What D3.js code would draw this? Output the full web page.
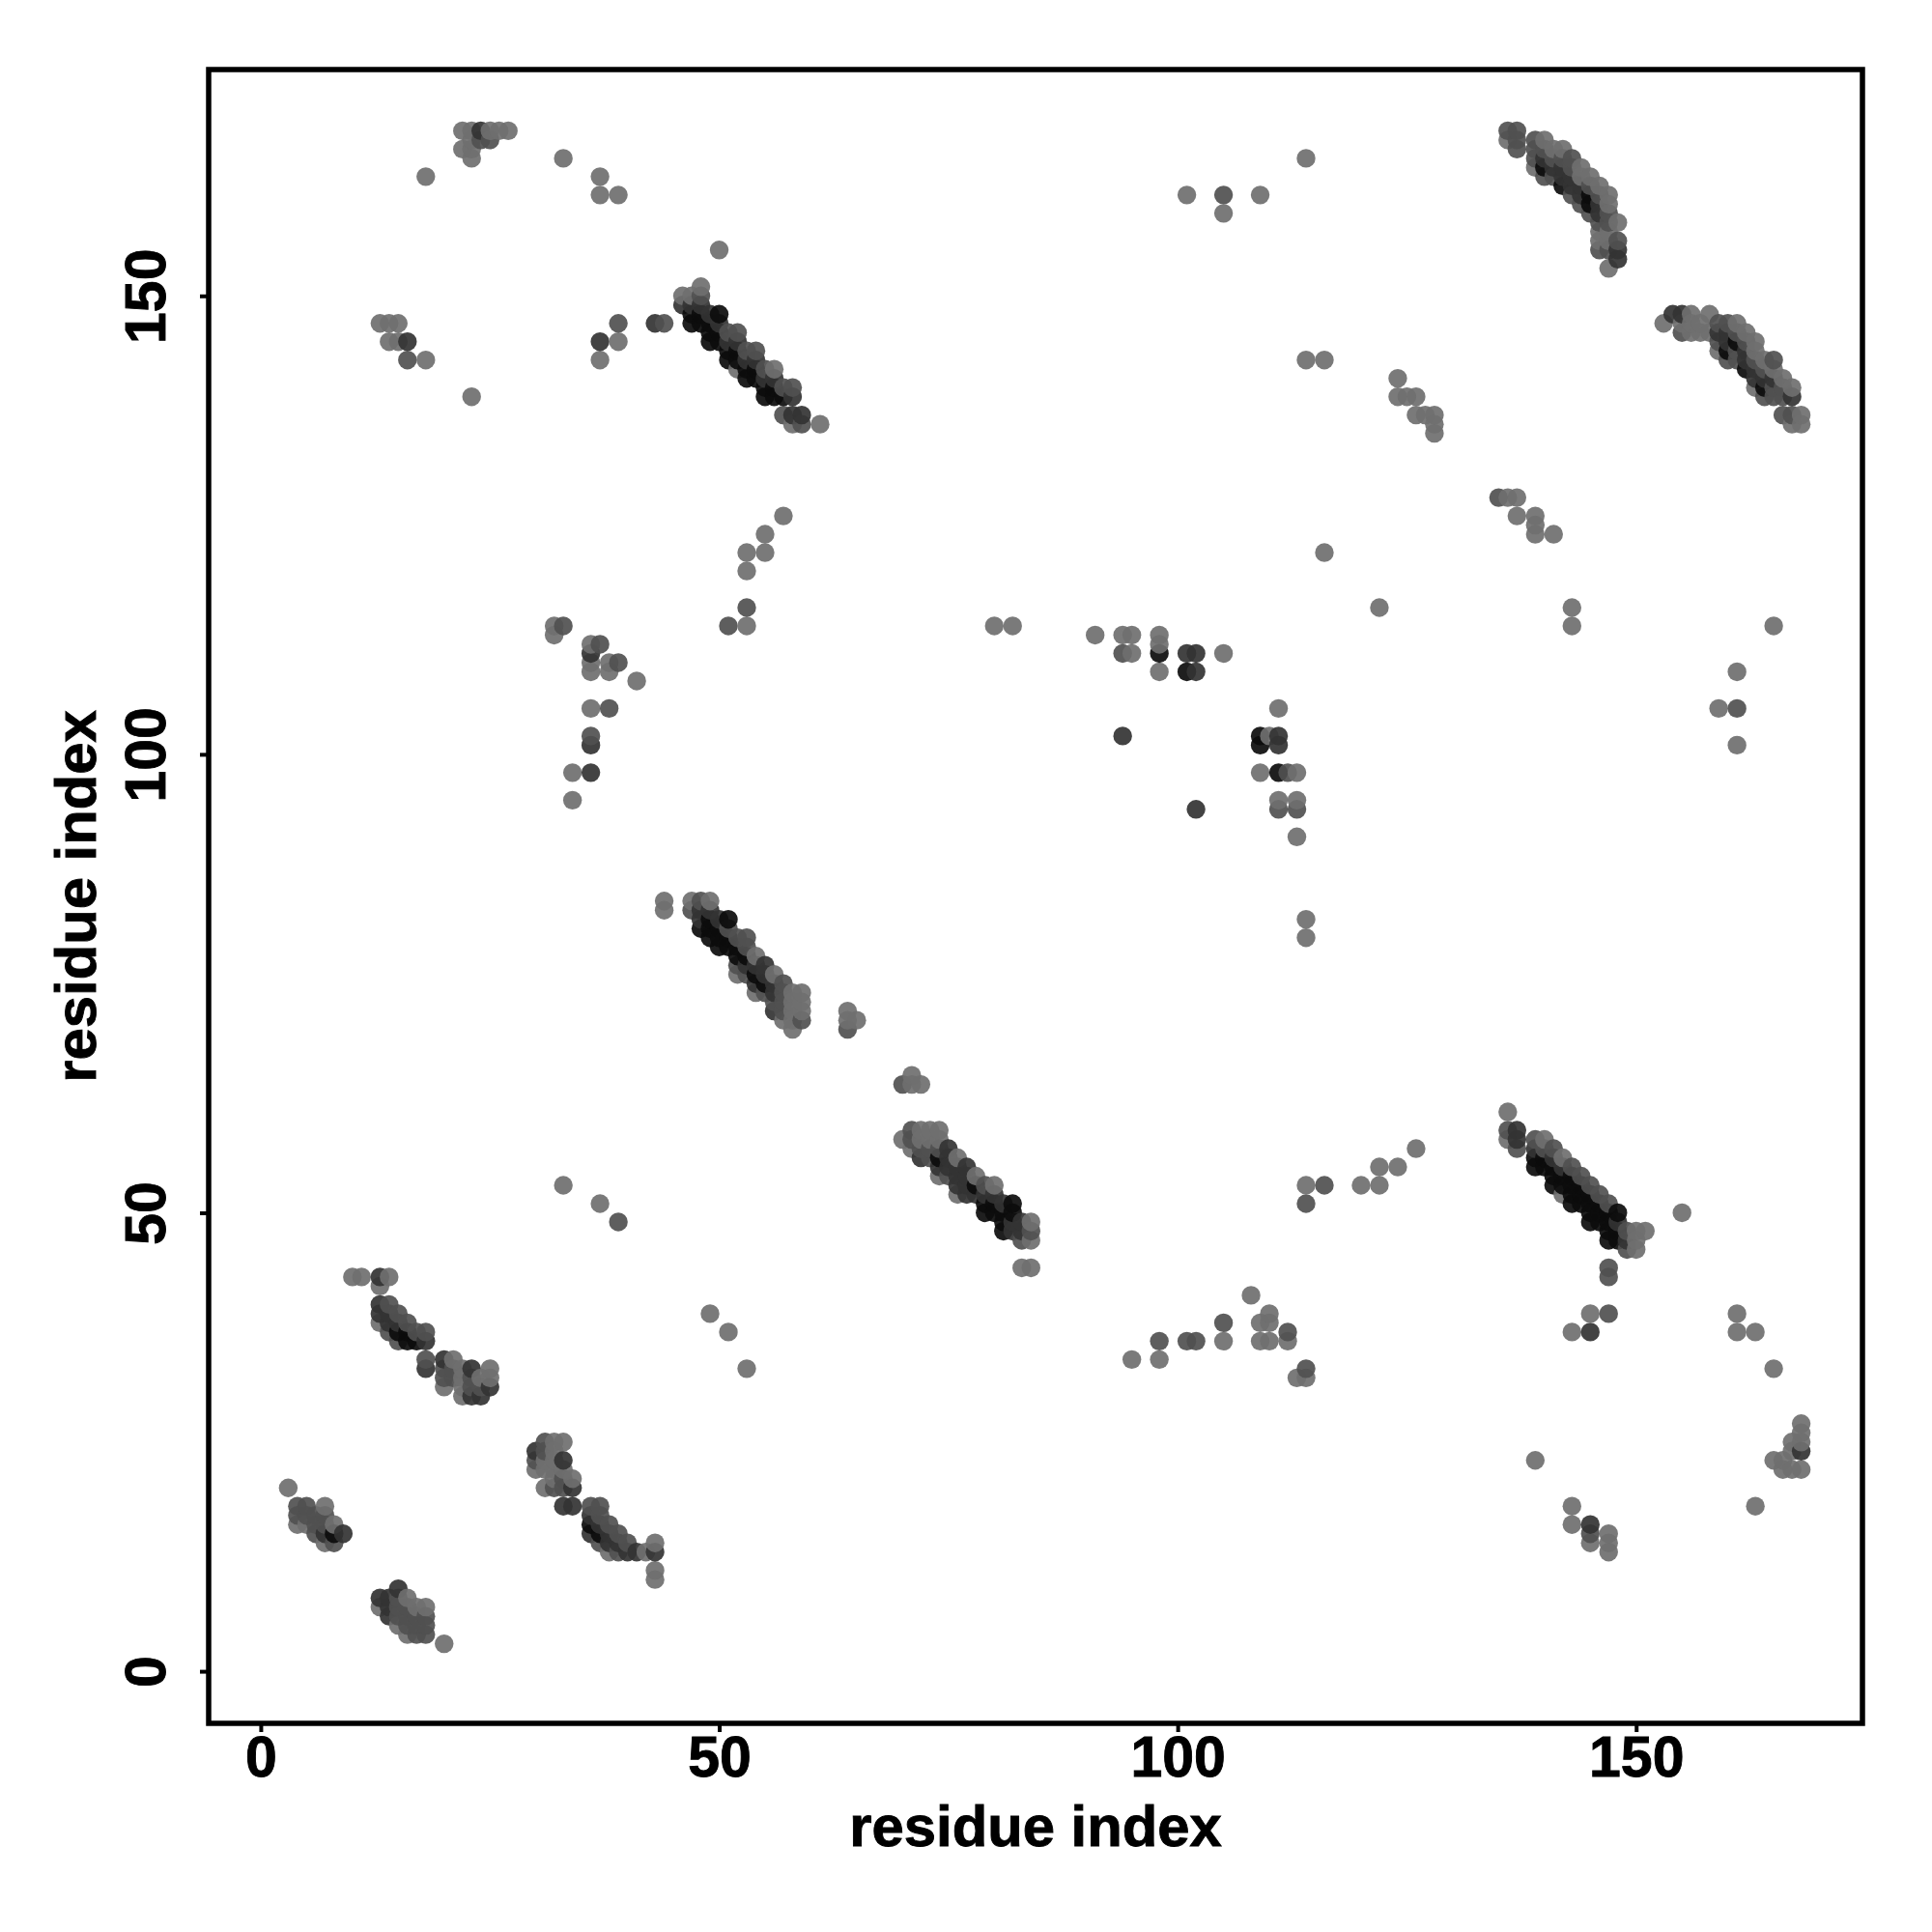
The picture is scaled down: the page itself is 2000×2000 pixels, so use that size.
<!DOCTYPE html>
<html><head><meta charset="utf-8">
<style>html,body{margin:0;background:#fff}svg{display:block}text{font-family:"Liberation Sans",Arial,sans-serif;font-weight:700;fill:#000;stroke:#000;stroke-width:.9px}</style>
<script src="https://cdn.jsdelivr.net/npm/d3@7"></script></head><body>
<div id="c"></div>
<script>
// contacts: [residue i, residue j, strength 1 (weak) .. 4 (strong)]
const tickValues=[0,50,100,150];
const axisTitle="residue index";
const domainLimits=[-5.68,174.68];
const strengthLevels=[1,2,3,4];
const strengthGrays=["#6f6f6f","#505050","#333333","#0c0c0c"];

const lowerLeftA=[[3,20,1],[4,16,1],[4,17,2],[4,18,2],[5,16,1],[5,17,2],[5,18,2],[6,15,2],[6,16,2],[6,17,2],[7,14,1],[7,15,3],[7,16,2],[7,17,2],[7,18,1],[8,14,2],[8,15,4],[8,16,1],[9,15,3]];
const lowerLeftB=[[13,7,1],[13,8,3],[14,6,3],[14,7,3],[14,8,3],[15,5,1],[15,6,2],[15,7,2],[15,8,2],[15,9,3],[16,4,1],[16,5,2],[16,6,2],[16,7,2],[16,8,1],[17,4,2],[17,5,2],[17,6,2],[17,7,1],[18,4,2],[18,5,2],[18,6,2],[18,7,1],[20,3,1]];
const lowerLeftC=[[30,22,1],[30,23,2],[30,24,3],[31,20,1],[31,22,1],[31,23,1],[31,24,2],[31,25,2],[32,20,2],[32,21,1],[32,22,1],[32,23,1],[32,24,1],[32,25,1],[33,18,3],[33,20,2],[33,21,2],[33,22,1],[33,23,3],[33,25,1],[34,18,3],[34,20,3],[34,21,1],[36,15,3],[36,16,4],[36,17,3],[36,18,2],[37,14,2],[37,15,4],[37,16,3],[37,17,2],[37,18,2],[38,13,1],[38,14,3],[38,15,3],[38,16,2],[39,13,2],[39,14,3],[39,15,2],[40,13,3],[40,14,2],[41,13,3],[42,13,1],[43,10,1],[43,11,1],[43,13,3],[43,14,1]];
const lowerLeftD=[[10,43,1],[11,43,1],[13,38,1],[13,39,3],[13,40,3],[13,42,1],[13,43,3],[14,37,2],[14,38,3],[14,39,3],[14,40,2],[14,43,1],[15,36,2],[15,37,4],[15,38,3],[15,39,2],[16,36,4],[16,37,4],[16,38,2],[17,36,4],[17,37,2],[18,33,3],[18,34,2],[18,36,3],[18,37,2],[20,31,1],[20,32,2],[20,33,2],[20,34,3],[21,32,2],[21,33,2],[21,34,1],[22,30,1],[22,31,1],[22,32,1],[22,33,1],[23,30,3],[23,31,2],[23,32,2],[23,33,3],[24,30,3],[24,31,2],[24,32,1],[25,31,3],[25,32,1],[25,33,1]];
const topLeft=[[18,163,1],[22,166,1],[22,168,1],[23,165,1],[23,166,1],[23,167,1],[23,168,1],[24,167,2],[24,168,3],[25,167,2],[25,168,1],[26,168,1],[27,168,1],[33,165,1],[37,161,1],[37,163,1],[39,161,1]];
const upperLeft=[[13,147,1],[14,145,1],[14,147,1],[15,145,1],[15,147,1],[16,143,2],[16,145,3],[18,143,1],[23,139,1],[37,143,1],[37,145,3],[39,145,1],[39,147,2],[43,147,3],[44,147,2],[50,155,1]];
const bandF=[[46,149,3],[46,150,1],[47,147,4],[47,148,4],[47,149,3],[47,150,1],[48,147,4],[48,148,4],[48,149,3],[48,150,2],[48,151,1],[49,145,4],[49,146,4],[49,147,4],[49,148,3],[50,145,4],[50,146,4],[50,147,3],[50,148,4],[51,143,4],[51,144,4],[51,145,3],[51,146,2],[52,142,1],[52,143,4],[52,144,4],[52,145,3],[52,146,2],[53,141,4],[53,142,4],[53,143,3],[53,144,2],[54,141,4],[54,142,4],[54,143,3],[54,144,2],[55,139,4],[55,140,4],[55,141,3],[55,142,2],[56,139,4],[56,140,4],[56,141,3],[56,142,1],[57,137,2],[57,139,4],[57,140,2],[58,136,1],[58,137,3],[58,139,3],[58,140,2],[59,136,2],[59,137,3],[61,136,1]];
const bandG=[[44,83,1],[44,84,1],[47,83,2],[47,84,1],[48,81,4],[48,82,3],[48,83,3],[48,84,2],[49,80,4],[49,81,4],[49,82,4],[49,83,3],[49,84,1],[50,79,4],[50,80,4],[50,81,4],[50,82,3],[51,79,4],[51,80,4],[51,81,2],[51,82,4],[52,76,1],[52,77,2],[52,78,4],[52,79,4],[52,80,2],[53,76,2],[53,77,3],[53,78,4],[53,79,2],[53,80,2],[54,74,1],[54,75,3],[54,76,4],[54,77,3],[54,78,1],[55,74,2],[55,75,4],[55,76,3],[55,77,3],[56,72,3],[56,73,2],[56,74,3],[56,75,3],[56,76,1],[57,71,1],[57,72,2],[57,73,2],[57,74,2],[57,75,2],[58,70,1],[58,71,1],[58,72,1],[58,73,1],[58,74,1],[59,71,2],[59,72,1],[59,73,1],[59,74,1],[64,70,2],[64,71,1],[64,72,1],[65,71,1]];
const bandH=[[70,58,1],[70,64,2],[71,57,1],[71,58,2],[71,59,2],[71,64,1],[71,65,1],[72,56,3],[72,57,2],[72,58,1],[72,59,1],[72,64,1],[73,56,2],[73,57,2],[73,58,1],[73,59,1],[74,54,1],[74,55,3],[74,56,4],[74,57,2],[74,58,1],[74,59,1],[75,54,2],[75,55,3],[75,56,3],[75,57,3],[76,52,1],[76,53,3],[76,54,3],[76,55,3],[76,56,1],[77,52,3],[77,53,3],[77,54,3],[77,55,3],[78,52,3],[78,53,4],[78,54,1],[79,50,4],[79,51,4],[79,52,3],[79,53,2],[80,50,4],[80,51,4],[80,52,3],[80,53,1],[81,48,4],[81,49,4],[81,50,4],[81,51,3],[82,48,3],[82,49,3],[82,50,4],[82,51,4],[83,47,2],[83,48,3],[83,49,3],[84,47,1],[84,48,2],[84,49,1],[83,44,1],[84,44,1]];
const bandI=[[136,58,1],[136,59,2],[136,61,1],[137,57,2],[137,58,3],[137,59,3],[139,55,4],[139,56,4],[139,57,3],[139,58,2],[140,55,4],[140,56,4],[140,57,2],[140,58,1],[141,53,4],[141,54,4],[141,55,4],[141,56,3],[141,57,2],[142,52,1],[142,53,4],[142,54,4],[142,55,3],[142,56,1],[143,51,4],[143,52,4],[143,53,4],[143,54,4],[143,55,2],[144,51,4],[144,52,4],[144,53,4],[144,54,2],[145,49,4],[145,50,4],[145,51,4],[145,52,4],[145,53,2],[146,49,4],[146,50,4],[146,51,4],[146,52,2],[147,47,4],[147,48,4],[147,49,4],[147,50,4],[147,51,2],[148,47,4],[148,48,4],[148,49,3],[148,50,4],[149,46,2],[149,47,3],[149,48,2],[150,46,1],[150,47,1],[150,48,1],[151,48,1],[147,43,2],[147,44,2],[155,50,1]];
const upperRight1=[[136,167,1],[136,168,2],[137,166,2],[137,167,2],[137,168,2],[139,164,1],[139,165,2],[139,166,2],[139,167,2],[140,163,2],[140,164,4],[140,165,3],[140,166,2],[140,167,1],[141,163,2],[141,164,3],[141,165,2],[141,166,1],[142,162,4],[142,163,3],[142,164,3],[142,165,2],[142,166,1],[143,161,2],[143,162,3],[143,163,3],[143,164,2],[143,165,2],[144,160,2],[144,161,3],[144,162,3],[144,163,1],[144,164,1],[145,159,2],[145,160,4],[145,161,4],[145,162,2],[145,163,1],[146,155,2],[146,156,1],[146,157,1],[146,158,2],[146,159,3],[146,160,3],[146,161,2],[146,162,1],[147,153,1],[147,155,2],[147,156,1],[147,157,1],[147,158,2],[147,159,2],[147,160,1],[147,161,1],[148,154,3],[148,155,3],[148,156,2],[148,158,1]];
const upperRight2=[[153,147,1],[154,148,3],[155,146,2],[155,147,1],[155,148,3],[156,146,1],[156,147,1],[156,148,1],[157,146,1],[157,147,1],[158,146,1],[158,148,1],[159,144,1],[159,145,2],[159,146,3],[159,147,2],[160,143,2],[160,144,4],[160,145,3],[160,146,3],[160,147,2],[161,143,2],[161,144,2],[161,145,4],[161,146,2],[161,147,1],[162,142,4],[162,143,3],[162,144,3],[162,145,2],[162,146,1],[163,140,1],[163,141,3],[163,142,3],[163,143,2],[163,144,1],[163,145,1],[164,139,2],[164,140,4],[164,141,3],[164,142,2],[164,143,1],[165,139,2],[165,140,2],[165,141,3],[165,142,1],[165,143,2],[166,137,2],[166,139,2],[166,140,2],[166,141,1],[167,136,1],[167,137,2],[167,139,3],[167,140,1],[168,136,1],[168,137,1]];
const scatterCentre=[[80,114,1],[82,114,1],[91,113,1],[94,102,3],[94,111,2],[94,113,1],[95,111,1],[95,113,1],[98,109,1],[98,111,4],[98,112,1],[98,113,1],[101,109,4],[101,111,3],[102,94,3],[102,109,3],[102,111,3],[105,111,1],[109,98,1],[109,101,4],[109,102,4],[110,102,1],[111,94,2],[111,95,1],[111,98,4],[111,101,3],[111,102,3],[111,105,1],[112,98,2],[113,91,1],[113,94,2],[113,95,1],[113,98,1],[114,80,1],[114,82,1]];
const scatterLeft=[[32,113,1],[32,114,1],[33,114,2],[34,95,1],[34,98,1],[36,98,3],[36,101,3],[36,102,2],[36,105,1],[36,109,1],[36,110,1],[36,111,3],[36,112,1],[37,112,2],[38,105,2],[38,109,1],[38,110,1],[39,110,2],[41,108,1],[51,114,2],[53,114,1],[53,116,2],[53,120,1],[53,122,1],[55,122,1],[55,124,1],[57,126,1]];
const scatterUpper=[[101,161,1],[105,159,1],[105,161,2],[109,161,1],[114,143,1],[114,165,1],[116,122,1],[116,143,1],[122,116,1],[124,139,1],[124,141,1],[125,139,1],[126,137,1],[126,139,1],[127,137,1],[128,135,1],[128,136,1],[128,137,1],[135,128,2],[136,128,1],[137,126,1],[137,128,1],[139,124,1],[139,125,1],[139,126,1],[141,124,1],[143,114,1],[143,116,1],[159,105,1],[161,101,1],[161,105,2],[161,109,1],[165,114,1]];
const scatterLower=[[33,53,1],[37,51,1],[39,49,2],[49,39,1],[51,37,1],[53,33,1],[95,34,1],[98,34,1],[98,36,2],[101,36,2],[102,36,2],[105,36,1],[105,38,2],[108,41,1],[109,36,1],[109,38,1],[110,36,1],[110,38,1],[110,39,1],[112,36,1],[112,37,2],[113,32,1],[114,32,1],[114,33,2],[114,51,2],[114,53,1],[116,53,2],[120,53,1],[122,53,1],[122,55,1],[124,55,1],[126,57,1]];
const scatterRight=[[139,23,1],[143,16,1],[143,18,1],[143,37,1],[145,14,1],[145,15,2],[145,16,3],[145,37,3],[145,39,1],[147,13,1],[147,14,1],[147,15,1],[147,39,2],[161,37,1],[161,39,1],[163,18,1],[163,37,1],[165,23,1],[165,33,1],[166,22,1],[166,23,1],[167,22,1],[167,24,1],[167,25,1],[168,22,1],[168,24,3],[168,25,1],[168,26,1],[168,27,1]];

const contacts=[lowerLeftA,lowerLeftB,lowerLeftC,lowerLeftD,topLeft,upperLeft,bandF,bandG,bandH,bandI,upperRight1,upperRight2,scatterCentre,scatterLeft,scatterUpper,scatterLower,scatterRight].flat()
  .sort((a,b)=>d3.ascending(a[0],b[0])||d3.ascending(a[1],b[1]));

const W=2000,H=2000,L=216,R=1928,T=72,B=1784;
const x=d3.scaleLinear().domain(domainLimits).range([L,R]);
const y=d3.scaleLinear().domain(domainLimits).range([B,T]);
const shade=d3.scaleOrdinal().domain(strengthLevels).range(strengthGrays);
const svg=d3.select("#c").append("svg").attr("width",W).attr("height",H);
svg.append("rect").attr("width",W).attr("height",H).attr("fill","#fff").attr("stroke","none");

svg.append("g").selectAll("circle").data(contacts).join("circle")
  .attr("cx",d=>x(d[0])).attr("cy",d=>y(d[1])).attr("r",9.7)
  .attr("fill",d=>shade(d[2])).attr("fill-opacity",0.92);

svg.append("rect").attr("x",L).attr("y",T).attr("width",R-L).attr("height",B-T)
  .attr("fill","none").attr("stroke","#000").attr("stroke-width",5.5);

const gx=svg.append("g").attr("transform",`translate(0,${B+2})`)
  .call(d3.axisBottom(x).tickValues(tickValues).tickSize(7).tickPadding(4).tickFormat(d3.format("d")));
const gy=svg.append("g").attr("transform",`translate(${L-2},0)`)
  .call(d3.axisLeft(y).tickValues(tickValues).tickSize(7).tickFormat(d3.format("d")));
gx.select(".domain").remove();gy.select(".domain").remove();
gx.selectAll("line").attr("stroke","#000").attr("stroke-width",4);
gy.selectAll("line").attr("stroke","#000").attr("stroke-width",4);
gx.selectAll("text").attr("font-size",59).attr("dy",null).attr("y",null)
  .attr("text-anchor","middle").attr("transform",`translate(0,${1839-(B+2)})`);
gy.selectAll("text").attr("font-size",59).attr("dy",null).attr("x",null)
  .attr("text-anchor","middle").attr("transform",`translate(${171-(L-2)},0) rotate(-90)`);
svg.append("text").attr("x",(L+R)/2).attr("y",1911).attr("text-anchor","middle").attr("font-size",59.8).text(axisTitle);
svg.append("text").attr("transform",`translate(99,${(T+B)/2}) rotate(-90)`).attr("text-anchor","middle").attr("font-size",59.8).text(axisTitle);
</script></body></html>
